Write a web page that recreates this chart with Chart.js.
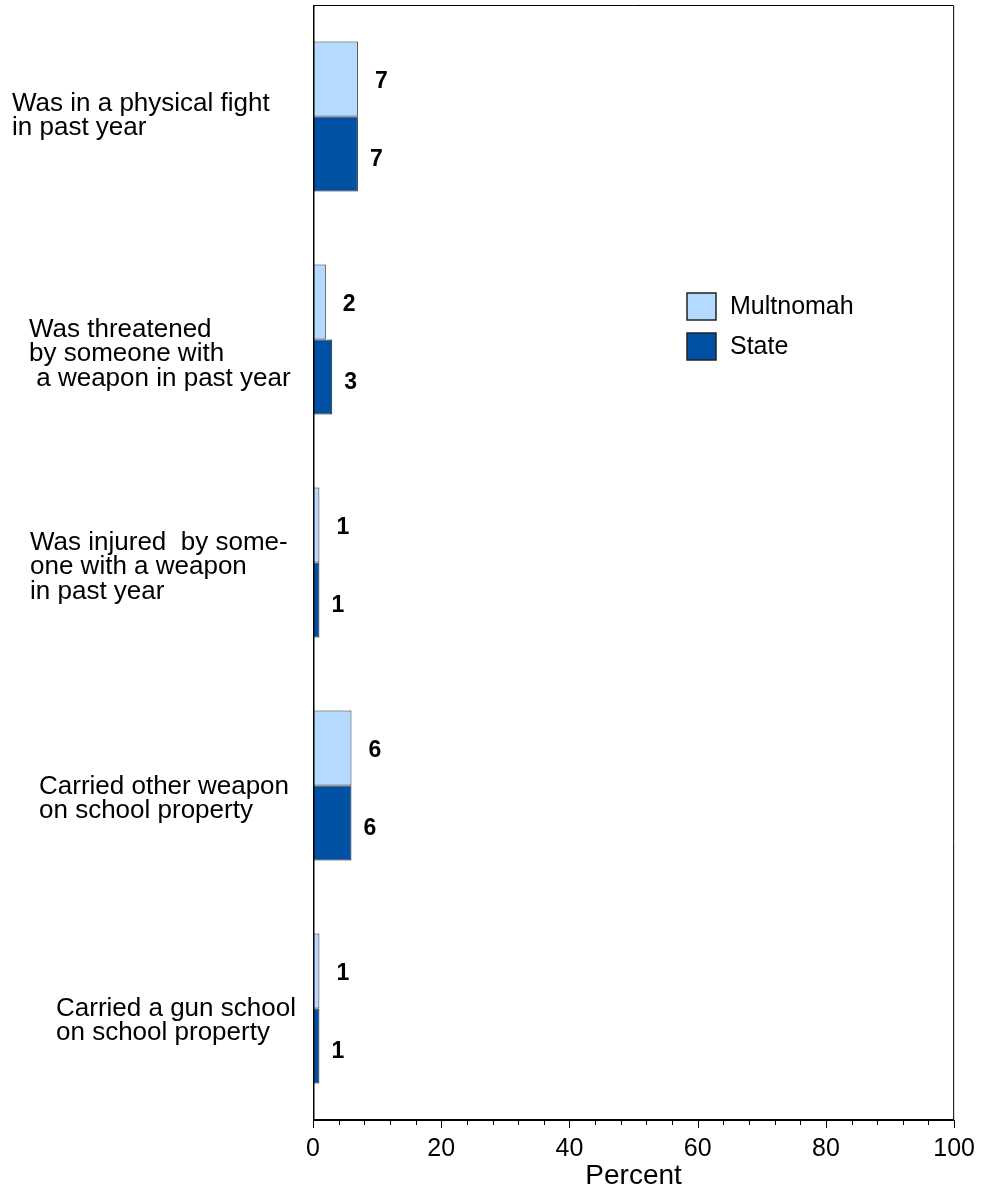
<!DOCTYPE html>
<html>
<head>
<meta charset="utf-8">
<script src="https://cdn.jsdelivr.net/npm/chart.js@4/dist/chart.umd.min.js"></script>
<style>
  body { margin: 0; background: #fff; }
  canvas { display: block; }
</style>
</head>
<body>
<canvas id="violenceChart" width="983" height="1193"></canvas>
<script>
// data
const categories = [
    ['Was in a physical fight', 'in past year'],
    ['Was threatened', 'by someone with', ' a weapon in past year'],
    ['Was injured  by some-', 'one with a weapon', 'in past year'],
    ['Carried other weapon', 'on school property'],
    ['Carried a gun school', 'on school property']
];
const multnomah = [7, 2, 1, 6, 1];
const state = [7, 3, 1, 6, 1];
const xTicks = [0, 20, 40, 60, 80, 100];
const seriesNames = ['Multnomah', 'State'];

// label layout (left edge and first baseline offset from the category centre)
const labelLeft = [12, 29, 30, 39, 56];
const labelShift = [-6, -3, -13, 8, 7];

const FONT = '"Liberation Sans", Arial, sans-serif';

const overlay = {
    id: 'overlay',
    afterDatasetsDraw(chart) {
        const ctx = chart.ctx;
        const area = chart.chartArea;
        const xScale = chart.scales.x;
        const yScale = chart.scales.y;

        ctx.save();

        // frame
        ctx.strokeStyle = '#000';
        ctx.lineWidth = 1;
        ctx.beginPath();
        ctx.moveTo(area.right - 0.5, area.bottom);
        ctx.lineTo(area.right - 0.5, area.top + 0.5);
        ctx.lineTo(area.left, area.top + 0.5);
        ctx.stroke();
        ctx.lineWidth = 1.5;
        ctx.beginPath();
        ctx.moveTo(area.left + 0.75, area.top);
        ctx.lineTo(area.left + 0.75, area.bottom);
        ctx.stroke();
        ctx.lineWidth = 2;
        ctx.beginPath();
        ctx.moveTo(area.left, area.bottom);
        ctx.lineTo(area.right, area.bottom);
        ctx.stroke();

        // x ticks: long at labelled values, short in between
        ctx.lineWidth = 1;
        xScale.ticks.forEach(t => {
            const px = Math.round(xScale.getPixelForValue(t.value)) + 0.5;
            const len = xTicks.includes(t.value) ? 8 : 5;
            ctx.beginPath();
            ctx.moveTo(px, area.bottom);
            ctx.lineTo(px, area.bottom + len);
            ctx.stroke();
        });

        // value labels
        ctx.fillStyle = '#000';
        ctx.font = 'bold 23px ' + FONT;
        ctx.textAlign = 'left';
        ctx.textBaseline = 'middle';
        const offs = [{ dx: 17, dy: 3 }, { dx: 12, dy: 6 }];
        chart.data.datasets.forEach((ds, di) => {
            const meta = chart.getDatasetMeta(di);
            meta.data.forEach((bar, i) => {
                ctx.fillText(String(ds.data[i]), bar.x + offs[di].dx, bar.y + offs[di].dy);
            });
        });

        // category labels
        ctx.font = '26px ' + FONT;
        ctx.textBaseline = 'alphabetic';
        categories.forEach((lines, i) => {
            const cy = yScale.getPixelForValue(i);
            lines.forEach((line, j) => {
                ctx.fillText(line, labelLeft[i], cy + labelShift[i] + j * 24.5);
            });
        });

        // legend
        ctx.font = '25px ' + FONT;
        ctx.textBaseline = 'middle';
        chart.data.datasets.forEach((ds, di) => {
            const bx = 687, by = 293 + di * 40;
            ctx.fillStyle = ds.backgroundColor;
            ctx.fillRect(bx, by, 29, 27);
            ctx.lineWidth = 1.5;
            ctx.strokeStyle = '#222';
            ctx.strokeRect(bx, by, 29, 27);
            ctx.fillStyle = '#000';
            ctx.fillText(ds.label, 730, by + 14);
        });

        ctx.restore();
    }
};

const ctx = document.getElementById('violenceChart').getContext('2d');
new Chart(ctx, {
    type: 'bar',
    data: {
        labels: categories,
        datasets: [{
            label: seriesNames[0],
            data: multnomah,
            backgroundColor: '#b5daff',
            borderColor: '#2a2a2a',
            borderWidth: 1
        }, {
            label: seriesNames[1],
            data: state,
            backgroundColor: '#0051a3',
            borderColor: '#1a1a1a',
            borderWidth: 1
        }]
    },
    options: {
        indexAxis: 'y',
        responsive: false,
        animation: false,
        categoryPercentage: 0.673,
        barPercentage: 1,
        layout: {
            padding: { left: 313, right: 27, top: 5, bottom: 0 }
        },
        plugins: {
            legend: { display: false },
            tooltip: { enabled: false }
        },
        scales: {
            x: {
                min: 0,
                max: 100,
                afterFit: scale => { scale.height = 73; },
                border: { display: false },
                grid: {
                    drawOnChartArea: false,
                    drawTicks: true,
                    tickLength: 6,
                    tickColor: 'rgba(0,0,0,0)'
                },
                ticks: {
                    stepSize: 4,
                    autoSkip: false,
                    maxRotation: 0,
                    padding: 8,
                    color: '#000',
                    font: { family: FONT, size: 25 },
                    callback: v => xTicks.includes(v) ? String(v) : ''
                },
                title: {
                    display: true,
                    text: 'Percent',
                    color: '#000',
                    font: { family: FONT, size: 28 },
                    padding: { top: 0, bottom: 0 }
                }
            },
            y: {
                display: false
            }
        }
    },
    plugins: [overlay]
});
</script>
</body>
</html>
